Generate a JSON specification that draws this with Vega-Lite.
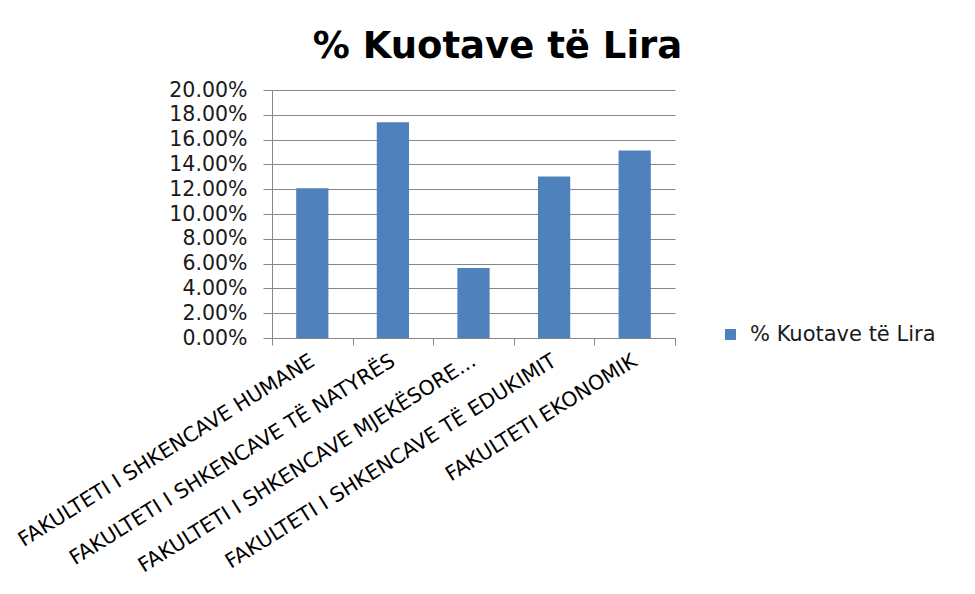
{
  "$schema": "https://vega.github.io/schema/vega-lite/v6.json",
  "autosize": {"type": "none"},
  "padding": {"left": 272, "top": 90, "right": 300, "bottom": 256},
  "width": 403,
  "height": 248,
  "background": "white",
  "title": {
    "text": "% Kuotave të Lira",
    "font": "DejaVu Sans",
    "fontSize": 37,
    "fontWeight": "bold",
    "color": "#000000",
    "anchor": "middle",
    "dx": 24,
    "offset": 14
  },
  "data": {
    "values": [
      {"fakulteti": "FAKULTETI I SHKENCAVE HUMANE", "vlera": 0.1208, "seria": "% Kuotave të Lira"},
      {"fakulteti": "FAKULTETI I SHKENCAVE TË NATYRËS", "vlera": 0.174, "seria": "% Kuotave të Lira"},
      {"fakulteti": "FAKULTETI I SHKENCAVE MJEKËSORE...", "vlera": 0.0565, "seria": "% Kuotave të Lira"},
      {"fakulteti": "FAKULTETI I SHKENCAVE TË EDUKIMIT", "vlera": 0.1302, "seria": "% Kuotave të Lira"},
      {"fakulteti": "FAKULTETI EKONOMIK", "vlera": 0.1513, "seria": "% Kuotave të Lira"}
    ]
  },
  "mark": {"type": "bar", "width": {"band": 0.4}},
  "encoding": {
    "x": {
      "field": "fakulteti",
      "type": "nominal",
      "sort": null,
      "scale": {"paddingInner": 0, "paddingOuter": 0},
      "axis": {
        "title": null,
        "labelAngle": -32,
        "labelAlign": "right",
        "labelBaseline": "middle",
        "labelFont": "DejaVu Sans",
        "labelFontSize": 20.5,
        "labelColor": "#000000",
        "labelPadding": 14,
        "labelLimit": 600,
        "labelOverlap": false,
        "tickBand": "extent",
        "tickSize": 7,
        "tickColor": "#868686",
        "domainColor": "#868686",
        "grid": false
      }
    },
    "y": {
      "field": "vlera",
      "type": "quantitative",
      "scale": {"domain": [0, 0.2], "nice": false},
      "axis": {
        "title": null,
        "format": ".2%",
        "values": [0, 0.02, 0.04, 0.06, 0.08, 0.1, 0.12, 0.14, 0.16, 0.18, 0.2],
        "labelFont": "DejaVu Sans",
        "labelFontSize": 20.5,
        "labelColor": "#1a1a1a",
        "labelPadding": 16,
        "tickSize": 9,
        "tickColor": "#868686",
        "domainColor": "#868686",
        "gridColor": "#868686",
        "grid": true
      }
    },
    "color": {
      "field": "seria",
      "type": "nominal",
      "scale": {"range": ["#4F81BD"]},
      "legend": {
        "title": null,
        "orient": "none",
        "legendX": 448,
        "legendY": 234,
        "symbolType": "square",
        "symbolSize": 120,
        "symbolStrokeWidth": 0,
        "labelFont": "DejaVu Sans",
        "labelFontSize": 21,
        "labelColor": "#1a1a1a",
        "labelOffset": 9,
        "labelLimit": 400
      }
    }
  },
  "config": {
    "view": {"stroke": null},
    "axis": {"domainWidth": 1, "gridWidth": 1, "tickWidth": 1}
  }
}
